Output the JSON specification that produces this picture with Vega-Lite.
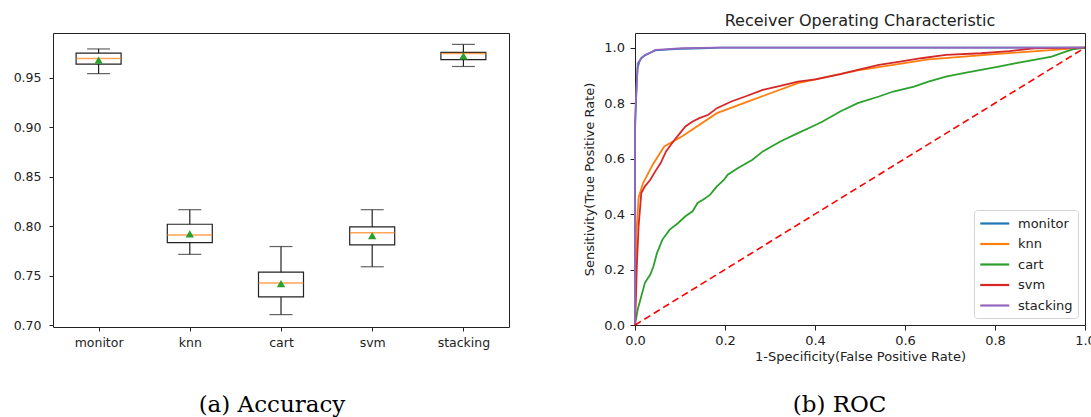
{
  "$schema": "https://vega.github.io/schema/vega-lite/v6.json",
  "padding": {"left": 12, "top": 12, "right": 0, "bottom": 0},
  "background": "white",
  "bounds": "flush",
  "spacing": 126,
  "resolve": {"legend": {"color": "independent"}, "scale": {"color": "independent"}},
  "datasets": {
    "boxes": [
      {"model": "monitor", "lo": 0.954, "q1": 0.9636, "med": 0.9692, "q3": 0.9746, "hi": 0.9789, "mean": 0.9676},
      {"model": "knn", "lo": 0.7716, "q1": 0.7835, "med": 0.7912, "q3": 0.802, "hi": 0.8167, "mean": 0.7923},
      {"model": "cart", "lo": 0.7108, "q1": 0.7287, "med": 0.7427, "q3": 0.7536, "hi": 0.7795, "mean": 0.7421},
      {"model": "svm", "lo": 0.7591, "q1": 0.7811, "med": 0.7933, "q3": 0.7993, "hi": 0.8167, "mean": 0.7905},
      {"model": "stacking", "lo": 0.9612, "q1": 0.9681, "med": 0.9742, "q3": 0.9755, "hi": 0.9835, "mean": 0.972}
    ],
    "roc": [
      {"model": "monitor", "fpr": 0, "tpr": 0},
      {"model": "monitor", "fpr": 0, "tpr": 0.7},
      {"model": "monitor", "fpr": 0.002, "tpr": 0.8},
      {"model": "monitor", "fpr": 0.004, "tpr": 0.88},
      {"model": "monitor", "fpr": 0.006, "tpr": 0.93},
      {"model": "monitor", "fpr": 0.01, "tpr": 0.95},
      {"model": "monitor", "fpr": 0.014, "tpr": 0.963},
      {"model": "monitor", "fpr": 0.022, "tpr": 0.972},
      {"model": "monitor", "fpr": 0.034, "tpr": 0.982},
      {"model": "monitor", "fpr": 0.045, "tpr": 0.99},
      {"model": "monitor", "fpr": 0.07, "tpr": 0.993},
      {"model": "monitor", "fpr": 0.1, "tpr": 0.996},
      {"model": "monitor", "fpr": 0.15, "tpr": 0.998},
      {"model": "monitor", "fpr": 0.19, "tpr": 1.0},
      {"model": "monitor", "fpr": 1, "tpr": 1.0},
      {"model": "knn", "fpr": 0, "tpr": 0},
      {"model": "knn", "fpr": 0.003, "tpr": 0.33},
      {"model": "knn", "fpr": 0.008, "tpr": 0.46},
      {"model": "knn", "fpr": 0.018, "tpr": 0.512},
      {"model": "knn", "fpr": 0.04, "tpr": 0.58},
      {"model": "knn", "fpr": 0.065, "tpr": 0.644},
      {"model": "knn", "fpr": 0.104, "tpr": 0.68},
      {"model": "knn", "fpr": 0.182, "tpr": 0.764},
      {"model": "knn", "fpr": 0.261, "tpr": 0.812},
      {"model": "knn", "fpr": 0.362, "tpr": 0.872},
      {"model": "knn", "fpr": 0.495, "tpr": 0.918},
      {"model": "knn", "fpr": 0.652, "tpr": 0.958},
      {"model": "knn", "fpr": 0.808, "tpr": 0.978},
      {"model": "knn", "fpr": 1, "tpr": 1},
      {"model": "cart", "fpr": 0, "tpr": 0},
      {"model": "cart", "fpr": 0.006, "tpr": 0.056},
      {"model": "cart", "fpr": 0.014, "tpr": 0.104},
      {"model": "cart", "fpr": 0.022, "tpr": 0.152},
      {"model": "cart", "fpr": 0.034, "tpr": 0.182},
      {"model": "cart", "fpr": 0.041, "tpr": 0.212},
      {"model": "cart", "fpr": 0.049, "tpr": 0.26},
      {"model": "cart", "fpr": 0.061, "tpr": 0.308},
      {"model": "cart", "fpr": 0.077, "tpr": 0.344},
      {"model": "cart", "fpr": 0.096, "tpr": 0.368},
      {"model": "cart", "fpr": 0.112, "tpr": 0.392},
      {"model": "cart", "fpr": 0.128, "tpr": 0.41},
      {"model": "cart", "fpr": 0.139, "tpr": 0.44},
      {"model": "cart", "fpr": 0.151, "tpr": 0.452},
      {"model": "cart", "fpr": 0.167, "tpr": 0.47},
      {"model": "cart", "fpr": 0.182, "tpr": 0.5},
      {"model": "cart", "fpr": 0.198, "tpr": 0.524},
      {"model": "cart", "fpr": 0.206, "tpr": 0.542},
      {"model": "cart", "fpr": 0.229, "tpr": 0.566},
      {"model": "cart", "fpr": 0.261, "tpr": 0.596},
      {"model": "cart", "fpr": 0.284, "tpr": 0.626},
      {"model": "cart", "fpr": 0.323, "tpr": 0.662},
      {"model": "cart", "fpr": 0.362, "tpr": 0.692},
      {"model": "cart", "fpr": 0.394, "tpr": 0.716},
      {"model": "cart", "fpr": 0.417, "tpr": 0.734},
      {"model": "cart", "fpr": 0.456, "tpr": 0.77},
      {"model": "cart", "fpr": 0.495, "tpr": 0.8},
      {"model": "cart", "fpr": 0.542, "tpr": 0.824},
      {"model": "cart", "fpr": 0.574, "tpr": 0.842},
      {"model": "cart", "fpr": 0.62, "tpr": 0.86},
      {"model": "cart", "fpr": 0.652, "tpr": 0.878},
      {"model": "cart", "fpr": 0.691, "tpr": 0.896},
      {"model": "cart", "fpr": 0.73, "tpr": 0.908},
      {"model": "cart", "fpr": 0.769, "tpr": 0.92},
      {"model": "cart", "fpr": 0.808, "tpr": 0.932},
      {"model": "cart", "fpr": 0.847, "tpr": 0.944},
      {"model": "cart", "fpr": 0.887, "tpr": 0.956},
      {"model": "cart", "fpr": 0.926, "tpr": 0.968},
      {"model": "cart", "fpr": 0.957, "tpr": 0.986},
      {"model": "cart", "fpr": 0.973, "tpr": 0.994},
      {"model": "cart", "fpr": 1, "tpr": 1},
      {"model": "svm", "fpr": 0, "tpr": 0},
      {"model": "svm", "fpr": 0.002, "tpr": 0.092},
      {"model": "svm", "fpr": 0.004, "tpr": 0.212},
      {"model": "svm", "fpr": 0.008, "tpr": 0.356},
      {"model": "svm", "fpr": 0.014, "tpr": 0.476},
      {"model": "svm", "fpr": 0.022, "tpr": 0.5},
      {"model": "svm", "fpr": 0.034, "tpr": 0.524},
      {"model": "svm", "fpr": 0.045, "tpr": 0.554},
      {"model": "svm", "fpr": 0.057, "tpr": 0.584},
      {"model": "svm", "fpr": 0.069, "tpr": 0.626},
      {"model": "svm", "fpr": 0.085, "tpr": 0.662},
      {"model": "svm", "fpr": 0.1, "tpr": 0.692},
      {"model": "svm", "fpr": 0.112, "tpr": 0.716},
      {"model": "svm", "fpr": 0.128, "tpr": 0.734},
      {"model": "svm", "fpr": 0.143, "tpr": 0.746},
      {"model": "svm", "fpr": 0.163, "tpr": 0.758},
      {"model": "svm", "fpr": 0.182, "tpr": 0.782},
      {"model": "svm", "fpr": 0.214, "tpr": 0.806},
      {"model": "svm", "fpr": 0.245, "tpr": 0.824},
      {"model": "svm", "fpr": 0.284, "tpr": 0.848},
      {"model": "svm", "fpr": 0.323, "tpr": 0.862},
      {"model": "svm", "fpr": 0.362, "tpr": 0.878},
      {"model": "svm", "fpr": 0.401, "tpr": 0.886},
      {"model": "svm", "fpr": 0.456, "tpr": 0.905},
      {"model": "svm", "fpr": 0.495, "tpr": 0.92},
      {"model": "svm", "fpr": 0.542, "tpr": 0.938},
      {"model": "svm", "fpr": 0.589, "tpr": 0.95},
      {"model": "svm", "fpr": 0.636, "tpr": 0.962},
      {"model": "svm", "fpr": 0.691, "tpr": 0.974},
      {"model": "svm", "fpr": 0.769, "tpr": 0.98},
      {"model": "svm", "fpr": 0.832, "tpr": 0.988},
      {"model": "svm", "fpr": 0.887, "tpr": 0.998},
      {"model": "svm", "fpr": 1, "tpr": 1},
      {"model": "stacking", "fpr": 0, "tpr": 0},
      {"model": "stacking", "fpr": 0, "tpr": 0.72},
      {"model": "stacking", "fpr": 0.002, "tpr": 0.81},
      {"model": "stacking", "fpr": 0.004, "tpr": 0.87},
      {"model": "stacking", "fpr": 0.006, "tpr": 0.944},
      {"model": "stacking", "fpr": 0.014, "tpr": 0.962},
      {"model": "stacking", "fpr": 0.022, "tpr": 0.974},
      {"model": "stacking", "fpr": 0.034, "tpr": 0.982},
      {"model": "stacking", "fpr": 0.045, "tpr": 0.992},
      {"model": "stacking", "fpr": 0.065, "tpr": 0.994},
      {"model": "stacking", "fpr": 0.104, "tpr": 0.998},
      {"model": "stacking", "fpr": 0.182, "tpr": 1.0},
      {"model": "stacking", "fpr": 1, "tpr": 1.0}
    ],
    "diag": [
      {"fpr": 0, "tpr": 0},
      {"fpr": 1, "tpr": 1}
    ]
  },
  "hconcat": [
    {
      "width": 456,
      "height": 294,
      "title": {"text": "(a) Accuracy", "orient": "bottom", "font": "DejaVu Serif", "fontSize": 23, "fontWeight": "normal", "color": "black", "baseline": "top", "offset": 45, "frame": "group", "anchor": "middle", "dx": -9},
      "data": {"name": "boxes"},
      "encoding": {
        "x": {"field": "model", "type": "nominal", "sort": null, "scale": {"type": "point", "padding": 0.5}, "axis": {"title": null, "labelAngle": 0, "tickSize": 4, "labelPadding": 5, "labelFontSize": 12.5}}
      },
      "layer": [
        {
          "mark": {"type": "rule", "color": "#222", "strokeWidth": 1.2},
          "encoding": {
            "y": {"field": "lo", "type": "quantitative", "title": null, "scale": {"domain": [0.6983, 0.995], "nice": false, "zero": false}, "axis": {"title": null, "values": [0.7, 0.75, 0.8, 0.85, 0.9, 0.95], "format": ".2f", "tickSize": 4, "labelPadding": 8, "labelFontSize": 12.5}},
            "y2": {"field": "hi"}
          }
        },
        {
          "mark": {"type": "tick", "color": "#222", "thickness": 1.2, "size": 23},
          "encoding": {"y": {"field": "lo", "type": "quantitative", "title": null}}
        },
        {
          "mark": {"type": "tick", "color": "#222", "thickness": 1.2, "size": 23},
          "encoding": {"y": {"field": "hi", "type": "quantitative", "title": null}}
        },
        {
          "mark": {"type": "bar", "width": 45, "fill": "white", "stroke": "#222", "strokeWidth": 1.2},
          "encoding": {"y": {"field": "q1", "type": "quantitative", "title": null}, "y2": {"field": "q3"}}
        },
        {
          "mark": {"type": "tick", "color": "#ff7f0e", "thickness": 1.5, "size": 45},
          "encoding": {"y": {"field": "med", "type": "quantitative", "title": null}}
        },
        {
          "mark": {"type": "point", "shape": "triangle-up", "filled": true, "color": "#2ca02c", "opacity": 1, "size": 70},
          "encoding": {"y": {"field": "mean", "type": "quantitative", "title": null}}
        }
      ]
    },
    {
      "title": {"text": "(b) ROC", "orient": "bottom", "font": "DejaVu Serif", "fontSize": 23, "fontWeight": "normal", "color": "black", "baseline": "top", "offset": 30, "anchor": "middle"},
      "resolve": {"legend": {"color": "independent"}, "scale": {"color": "independent"}},
      "vconcat": [
        {
          "width": 450,
          "height": 292,
          "title": {"text": "Receiver Operating Characteristic", "fontSize": 16, "font": "DejaVu Sans", "fontWeight": "normal", "color": "#222", "offset": 4.5},
          "layer": [
            {
              "data": {"name": "roc"},
              "mark": {"type": "line", "strokeWidth": 1.8},
              "encoding": {
                "x": {"field": "fpr", "type": "quantitative", "scale": {"domain": [0, 1], "nice": false}, "axis": {"title": "1-Specificity(False Positive Rate)", "values": [0, 0.2, 0.4, 0.6, 0.8, 1], "format": ".1f", "tickSize": 5, "labelPadding": 4.5, "labelFontSize": 13, "titleFontSize": 13, "titlePadding": 3}},
                "y": {"field": "tpr", "type": "quantitative", "scale": {"domain": [0, 1.053], "nice": false}, "axis": {"title": "Sensitivity(True Positive Rate)", "values": [0, 0.2, 0.4, 0.6, 0.8, 1], "format": ".1f", "tickSize": 5, "labelPadding": 5.5, "labelFontSize": 13, "titleFontSize": 13, "titlePadding": 7}},
                "color": {
                  "field": "model", "type": "nominal",
                  "scale": {"domain": ["monitor", "knn", "cart", "svm", "stacking"], "range": ["#1f77b4", "#ff7f0e", "#2ca02c", "#d62728", "#9467bd"]},
                  "legend": {"title": null, "orient": "bottom-right", "offset": 7, "symbolType": "M-1,0H3", "symbolSize": 210, "symbolStrokeWidth": 2.2, "symbolFillColor": "transparent", "labelFontSize": 13, "labelFont": "DejaVu Sans", "labelColor": "#222", "labelOffset": 22, "padding": 5, "rowPadding": 4.5, "fillColor": "rgba(255,255,255,0.85)", "strokeColor": "#d3d3d3", "cornerRadius": 3}
                }
              }
            },
            {
              "data": {"name": "diag"},
              "mark": {"type": "line", "color": "#ff0000", "strokeDash": [7, 4], "strokeWidth": 1.6},
              "encoding": {
                "x": {"field": "fpr", "type": "quantitative", "axis": {"title": "1-Specificity(False Positive Rate)"}},
                "y": {"field": "tpr", "type": "quantitative", "axis": {"title": "Sensitivity(True Positive Rate)"}}
              }
            }
          ]
        }
      ]
    }
  ],
  "config": {
    "view": {"stroke": "#222", "strokeWidth": 1},
    "font": "DejaVu Sans",
    "axis": {"domain": false, "grid": false, "tickColor": "#222", "labelColor": "#222", "titleColor": "#222", "labelFont": "DejaVu Sans", "titleFont": "DejaVu Sans", "titleFontWeight": "normal", "labelFlush": false, "labelOverlap": false},
    "title": {"font": "DejaVu Sans", "fontWeight": "normal", "color": "#222"}
  }
}
